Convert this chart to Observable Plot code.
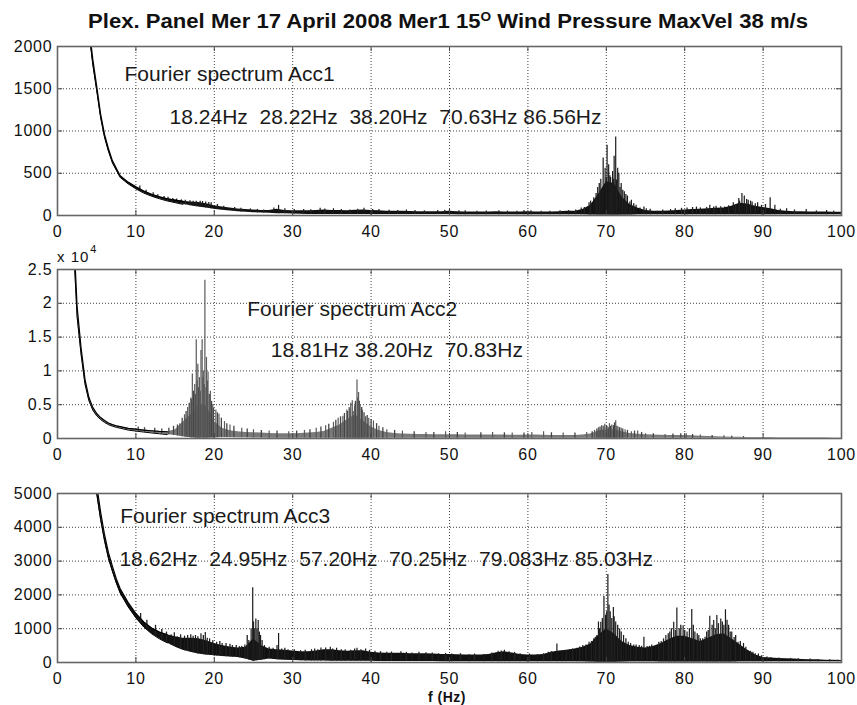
<!DOCTYPE html>
<html><head><meta charset="utf-8">
<script src="https://cdn.jsdelivr.net/npm/d3@7"></script>
<script src="https://cdn.jsdelivr.net/npm/@observablehq/plot@0.6"></script>
<style>
body{margin:0;background:#fff;}
#wrap{position:relative;width:857px;height:705px;overflow:hidden;background:#fff;font-family:"Liberation Sans",Arial,sans-serif;}
#wrap > svg{position:absolute;left:0;top:0;}
svg text{white-space:pre;}
g[aria-label$="tick label"] text{letter-spacing:0.8px;}
</style></head><body><div id="wrap"></div>
<script>
// ---------- data ----------
const titleText = ["Plex. Panel Mer 17 April 2008 Mer1 15", "O", " Wind Pressure MaxVel 38 m/s"];
const xLabel = "f (Hz)";
const xTicks = [0,10,20,30,40,50,60,70,80,90,100];
const yTicks1 = [0,500,1000,1500,2000];
const yTicks2 = [0,5000,10000,15000,20000,25000];
const yTickLabels2 = ["0","0.5","1","1.5","2","2.5"];
const yTicks3 = [0,1000,2000,3000,4000,5000];

const freq = [1,1.5,2,2.5,3,3.5,4,4.5,5,5.5,6,6.5,7,7.5,8,
  9,10,11,12,13,14,15,16,17,18,
  19,20,21,22,23,24,25,26,27,28,
  29,30,31,32,33,34,35,36,37,38,
  39,40,41,42,43,44,45,46,47,48,
  49,50,51,52,53,54,55,56,57,58,
  59,60,61,62,63,64,65,66,67,68,
  69,70,71,72,73,74,75,76,77,78,
  79,80,81,82,83,84,85,86,87,88,
  89,90,91,92,93,94,95,96,97,98,
  99,100];

// Acc1: upper / lower edge of the dense spectrum band
const acc1Hi = [9000,7000,5500,4200,3300,2700,2250,1850,1530,1200,960,790,650,560,470,
  395,340,290,252,222,198,182,168,160,155,
  140,115,100,88,78,70,65,60,60,75,
  60,55,55,55,60,65,60,60,55,62,
  65,58,55,50,50,50,48,45,45,45,
  45,50,45,40,40,40,40,45,42,40,
  42,45,40,40,42,45,50,50,70,120,
  250,400,380,220,130,90,60,50,50,52,
  60,65,70,75,80,85,90,110,145,135,
  110,95,80,60,50,45,45,42,40,40,
  38,38];
const acc1Lo = [8700,6800,5300,4050,3200,2620,2180,1790,1480,1160,925,760,625,535,450,
  375,315,265,228,198,172,152,132,115,100,
  88,75,62,52,45,38,34,30,26,22,
  20,18,15,12,12,12,12,12,12,12,
  12,12,12,12,12,12,12,12,12,12,
  12,12,10,10,10,10,10,10,10,10,
  10,10,10,10,10,10,10,10,8,5,
  5,5,5,5,5,8,10,10,10,10,
  10,10,10,10,10,10,10,10,8,8,
  8,8,10,10,10,10,10,10,10,10,
  10,10];
const acc1PeakF = [15.2,17.3,18.5,19.6,27.6,28.2,33.5,35.2,39.1,41,44.5,48.5,50,52,56.3,59.5,62.8,65.2,66.8,67.8,68.4,68.9,69.3,69.6,69.85,70.1,70.3,70.55,70.8,71.0,71.2,71.45,71.6,71.9,72.3,72.7,73.2,73.8,74.3,75.1,76.5,78.2,80.3,81.5,82.4,83.2,84.0,85.1,86.2,86.9,87.3,87.6,88.1,88.6,89.3,90.9,91.5,93.0,95.5,98.1];
const acc1PeakA = [195,170,165,150,90,120,85,80,85,70,65,60,70,55,55,60,50,60,90,150,210,330,430,680,560,832,600,450,520,700,928,560,500,380,280,230,180,120,90,80,50,70,90,100,70,120,110,100,150,200,260,230,180,160,150,210,120,80,70,60];
const acc1NoiseF = [10.5,11.3,12.2,12.8,13.6,14.1,14.7,15.8,16.3,16.9,17.7,18.2,18.9,19.3,20.4,21.2,22.6,23.4,24.6,25.5,26.3,29.0,30.2,31.4,32.3,34.1,36.2,37.3,38.3,40.2,42.3,43.4,45.6,46.8,49.4,51.2,53.5,54.7,57.4,58.6,60.4,61.7,64.1,66.1,67.2,68.0,68.7,69.1,69.45,70.0,70.45,70.65,70.95,71.3,71.75,72.1,72.5,73.0,73.5,74.8,75.6,77.2,78.8,79.6,81.0,82.0,82.8,83.7,84.6,85.6,86.5,87.0,87.9,88.4,89.0,89.8,90.3,92.2,94.0,96.8,99.0];
const acc1NoiseA = [350,300,270,245,225,215,200,185,180,175,170,168,160,155,130,110,95,85,78,72,66,80,70,72,68,78,72,66,75,70,62,60,58,55,62,55,50,52,52,50,55,50,55,65,95,170,260,380,300,450,470,380,430,420,330,300,250,160,140,100,75,65,80,85,95,90,95,100,105,115,130,170,190,170,140,120,130,75,65,55,50];

// Acc2
const acc2Hi = [100000,60000,32000,19500,13500,8800,6100,4600,3700,3100,2650,2300,2050,1880,1750,
  1500,1380,1250,1150,1050,1000,1250,2400,3500,5000,
  4800,2500,1500,1150,1000,900,850,800,750,700,
  700,700,750,800,900,1050,1500,2000,2800,3500,
  2600,1700,1200,900,750,650,620,600,580,560,
  560,560,540,520,500,500,500,520,500,480,
  480,500,500,480,460,460,450,450,500,650,
  1100,1300,1300,1000,750,620,550,500,480,450,
  450,430,400,350,300,250,220,200,180,160,
  150,140,130,120,120,110,110,100,100,100,
  90,90];
const acc2Lo = [92000,55000,29500,18000,12500,8100,5600,4200,3350,2800,2380,2050,1820,1650,1520,
  1250,1100,950,820,700,580,450,250,120,60,
  60,100,150,150,120,100,80,60,50,50,
  50,50,50,50,50,50,50,50,50,50,
  50,50,50,50,50,50,50,50,50,50,
  40,40,40,40,40,40,40,40,40,40,
  40,40,40,40,40,40,40,40,40,40,
  30,30,30,30,40,40,40,40,40,40,
  40,40,30,30,30,30,30,30,30,30,
  30,30,30,30,30,30,30,30,30,30,
  30,30];
const acc2PeakF = [15.6,16.2,16.6,17.0,17.2,17.5,17.7,17.9,18.1,18.3,18.45,18.6,18.8,19.0,19.2,19.5,19.8,20.2,20.6,21.3,22.0,23.5,25.0,27.0,29.5,31.5,33.0,34.2,35.2,35.8,36.4,36.9,37.2,37.4,37.6,37.9,38.2,38.4,38.6,38.9,39.3,39.7,40.3,41.0,42.0,44.0,47.0,49.5,52.0,55.5,58.0,60.5,62.0,64.5,67.5,68.5,69.0,69.4,69.8,70.1,70.4,70.7,71.2,71.5,71.9,72.4,73.2,74.0,75.0,77.5,80.2,82.0,85.0,87.5];
const acc2PeakA = [2200,3500,4600,6000,9550,8000,14600,11000,9000,13000,14600,10000,23400,12000,9800,7000,5000,4200,3600,2500,2000,1500,1300,1100,1000,1200,1500,1900,2400,3000,3300,4200,4600,5200,5600,4800,8660,6800,5000,4200,3200,3000,2600,1800,1300,1100,900,1000,800,900,800,900,1000,800,900,1200,1600,1900,2100,1800,2200,2000,2620,1700,1500,1300,1000,1100,700,600,700,500,400,300];
const acc2NoiseF = [10.3,11.1,12.4,13.3,14.2,14.8,15.3,15.9,16.4,16.8,17.1,17.35,17.6,17.8,18.0,18.2,18.55,18.7,18.95,19.1,19.35,19.65,19.9,20.4,20.9,21.6,22.5,24.2,26.0,28.0,30.5,32.2,33.6,34.6,35.5,36.1,36.6,37.0,37.3,37.7,38.0,38.3,38.5,38.8,39.1,39.5,40.0,40.7,41.5,43.0,45.5,48.0,51.0,54.0,57.0,59.5,63.0,66.0,68.2,68.8,69.2,69.6,70.0,70.25,70.55,70.9,71.05,71.35,71.7,72.1,72.7,73.6,74.5,76.0,78.5,79.5,81.0,83.5,86.0];
const acc2NoiseA = [1700,1600,1500,1400,1500,1800,2000,3000,4000,5200,5800,7000,6500,8500,7500,7000,9000,8000,7500,8500,6500,5500,4500,3800,3000,2200,1800,1400,1200,1100,1100,1300,1700,2100,2700,3200,3700,4000,4400,4000,5500,6000,5500,4600,3800,3400,2800,2200,1600,1200,1000,900,900,850,850,800,850,800,1000,1400,1700,1800,1900,1600,1800,1900,2300,1800,1600,1400,1200,1100,900,700,650,700,600,450,350];

// Acc3
const acc3Hi = [40000,30000,22000,16000,12000,9500,7500,6200,5250,4450,3780,3250,2850,2480,2180,
  1780,1450,1200,1020,900,820,760,720,720,700,
  640,560,500,460,430,450,700,500,400,380,
  360,340,320,320,340,380,380,350,330,350,
  350,300,280,270,270,270,260,260,260,250,
  240,240,230,220,220,220,240,290,320,280,
  240,220,220,240,300,340,360,400,450,550,
  800,1000,850,620,500,450,430,470,560,680,
  780,780,700,620,720,820,850,700,530,370,
  230,150,130,120,110,100,90,80,80,70,
  70,60];
const acc3Lo = [38000,28500,21000,15200,11400,9000,7100,5900,5000,4230,3600,3080,2700,2350,2050,
  1650,1320,1050,850,700,580,460,360,300,250,
  220,200,180,160,150,100,40,70,100,80,
  70,60,50,45,45,45,40,40,40,40,
  40,35,30,30,30,30,30,30,30,30,
  25,25,25,25,25,25,25,25,25,25,
  25,25,25,25,25,25,25,20,20,15,
  10,10,10,15,20,20,20,20,15,15,
  15,15,15,15,15,15,15,15,20,25,
  25,25,25,25,25,25,25,25,25,25,
  25,25];
const acc3PeakF = [14.5,15.3,16.2,17.0,17.6,18.3,18.85,19.4,20.3,21.0,22.3,23.5,24.4,24.7,24.9,25.1,25.3,25.6,25.9,26.4,27.5,28.2,28.6,29.4,31.0,32.4,33.6,34.8,35.6,36.7,38.2,39.3,40.5,42.0,43.8,45.2,47.0,48.6,50.3,52.5,54.4,56.2,57.0,57.6,59.0,61.2,62.6,63.7,64.4,65.3,66.2,67.0,67.8,68.4,68.8,69.0,69.3,69.7,69.9,70.2,70.5,70.9,71.2,71.7,72.2,72.8,73.5,74.2,74.8,75.5,76.3,77.0,77.6,78.1,78.6,79.0,79.3,79.8,80.3,80.9,81.3,81.8,82.3,82.8,83.2,83.7,84.1,84.6,85.2,85.6,86.0,86.3,86.8,87.5,88.1,88.7,89.4,91.0,93.5,96.0,98.5];
const acc3PeakA = [820,760,780,820,800,850,890,700,600,560,500,480,650,1000,2210,1000,1290,1240,800,500,420,860,400,380,350,380,430,450,420,380,420,400,330,300,320,280,290,260,250,230,240,330,365,320,260,230,300,545,330,380,420,500,600,700,800,1200,1190,1950,1400,2600,1500,1630,1200,990,800,600,520,500,750,480,500,620,800,900,1190,1610,1000,1090,900,1570,900,800,700,900,1370,1240,1390,1290,1560,1100,900,740,600,565,350,300,250,150,120,100,80];
const acc3NoiseF = [10.6,11.4,12.5,13.3,13.9,14.9,15.7,16.6,17.3,17.9,18.6,19.1,19.8,20.7,21.5,22.0,22.8,23.2,23.9,24.2,25.0,25.45,25.75,26.1,27.0,28.0,29.0,30.2,31.6,32.8,33.2,34.2,35.1,36.2,37.4,37.9,38.7,39.8,41.2,42.6,44.5,46.1,47.8,49.5,51.4,53.2,55.4,56.6,58.3,60.2,62.0,63.0,64.9,65.7,66.6,67.4,68.1,68.6,69.15,69.5,70.05,70.35,70.7,71.0,71.45,71.9,72.5,73.1,73.8,74.5,75.2,75.8,76.7,77.3,77.9,78.3,78.8,79.5,80.0,80.6,81.1,81.6,82.0,82.6,83.0,83.5,83.9,84.3,84.8,85.0,85.4,85.8,86.5,87.1,87.8,88.4,89.0,89.8,90.5,92.0,94.5,97.0,99.5];
const acc3NoiseA = [1450,1250,1100,980,900,880,820,800,780,760,800,720,640,620,560,540,500,470,520,800,1200,1000,900,650,450,500,420,380,360,400,380,430,400,380,360,400,380,360,320,310,300,300,280,270,260,250,280,340,300,250,260,320,360,400,460,520,620,750,1000,1300,1500,1700,1300,1350,1100,900,700,560,520,480,470,520,600,700,850,1000,950,1100,950,1000,1100,850,700,750,950,1100,1000,1150,1200,1100,1250,900,800,620,450,330,260,200,160,130,110,90,70];

const annot1 = ["Fourier spectrum Acc1", "18.24Hz  28.22Hz  38.20Hz  70.63Hz 86.56Hz"];
const annot2 = ["Fourier spectrum Acc2", "18.81Hz 38.20Hz  70.83Hz"];
const annot3 = ["Fourier spectrum Acc3", "18.62Hz  24.95Hz  57.20Hz  70.25Hz  79.083Hz 85.03Hz"];
const yMult = ["x 10", "4"];

// ---------- drawing ----------
const wrap = document.getElementById("wrap");
const FONT = '"Liberation Sans", Arial, Helvetica, sans-serif';

function loAt(lo, f) {
  const i = d3.bisectLeft(freq, f);
  if (i <= 0) return lo[0];
  if (i >= freq.length) return lo[lo.length - 1];
  const t = (f - freq[i-1]) / (freq[i] - freq[i-1]);
  return lo[i-1] + t * (lo[i] - lo[i-1]);
}

function panel(o) {
  const band = freq.map((f, i) => ({f, hi: o.hi[i], lo: o.lo[i]}));
  const curve = band.filter(d => d.f <= o.lineTo);
  const mk = (F, A) => F.map((f, i) => ({f, a: A[i], b: Math.min(loAt(o.lo, f), A[i])}));
  const noise = mk(o.nf, o.na);
  const spikes = mk(o.pf, o.pa);
  const yMax = o.yTicks[o.yTicks.length - 1];
  const inner = o.yTicks.slice(1, -1);
  const chart = Plot.plot({
    width: 857, height: 209,
    marginTop: 10, marginBottom: 30, marginLeft: 57, marginRight: 16,
    x: {domain: [0, 100], label: null},
    y: {domain: [0, yMax], label: null},
    style: {fontFamily: FONT, fontSize: "16px", color: "#111", background: "transparent", overflow: "visible"},
    marks: [
      Plot.gridX(xTicks.slice(1, -1), {stroke: "#222", strokeOpacity: 0.85, strokeDasharray: "1,2"}),
      Plot.gridY(inner, {stroke: "#222", strokeOpacity: 0.85, strokeDasharray: "1,2"}),
      Plot.areaY(band, {x: "f", y1: "lo", y2: "hi", fill: o.fill, clip: true}),
      Plot.ruleX(noise, {x: "f", y1: "b", y2: "a", stroke: o.noise, strokeWidth: 1.3, clip: true}),
      Plot.ruleX(spikes, {x: "f", y1: "b", y2: "a", stroke: o.spike, strokeWidth: 1.2, clip: true}),
      Plot.line(curve, {x: "f", y: "hi", stroke: "#000", strokeWidth: 1.2, clip: true}),
      Plot.line(curve, {x: "f", y: "lo", stroke: "#000", strokeWidth: 1, clip: true}),
      Plot.ruleX(xTicks, {x: d => d, y1: 0, y2: yMax * 0.03, stroke: "#444"}),
      Plot.ruleX(xTicks, {x: d => d, y1: yMax, y2: yMax * 0.97, stroke: "#444"}),
      Plot.ruleY(o.yTicks, {y: d => d, x1: 0, x2: 0.65, stroke: "#444"}),
      Plot.ruleY(o.yTicks, {y: d => d, x1: 100, x2: 99.35, stroke: "#444"}),
      Plot.frame({stroke: "#666", strokeWidth: 1.6}),
      Plot.axisX({ticks: xTicks, tickSize: 0, tickPadding: 10, tickFormat: d => String(d), label: null}),
      Plot.axisY({ticks: o.yTicks, tickSize: 0, tickPadding: 5, tickFormat: o.fmt, label: null}),
      Plot.text([o.ann[0]], {x: o.ax[0], y: o.ay[0], text: d => d, textAnchor: "start", fontSize: 21, fill: "#1a1a1a"}),
      Plot.text([o.ann[1]], {x: o.ax[1], y: o.ay[1], text: d => d, textAnchor: "start", fontSize: 21, fill: "#1a1a1a"})
    ]
  });
  chart.style.top = o.top + "px";
  wrap.append(chart);
}

panel({top: 36, yTicks: yTicks1, fmt: d => String(d), hi: acc1Hi, lo: acc1Lo, pf: acc1PeakF, pa: acc1PeakA, nf: acc1NoiseF, na: acc1NoiseA,
  fill: "#111", spike: "#1a1a1a", noise: "#222", lineTo: 16, ann: annot1, ax: [8.55, 14.3], ay: [1677, 1168]});
panel({top: 259, yTicks: yTicks2, fmt: d => yTickLabels2[yTicks2.indexOf(d)], hi: acc2Hi, lo: acc2Lo, pf: acc2PeakF, pa: acc2PeakA, nf: acc2NoiseF, na: acc2NoiseA,
  fill: "#7a7a7a", spike: "#5a5a5a", noise: "#444", lineTo: 14, ann: annot2, ax: [24.2, 27.2], ay: [19080, 13020]});
panel({top: 483, yTicks: yTicks3, fmt: d => String(d), hi: acc3Hi, lo: acc3Lo, pf: acc3PeakF, pa: acc3PeakA, nf: acc3NoiseF, na: acc3NoiseA,
  fill: "#111", spike: "#1a1a1a", noise: "#222", lineTo: 14, ann: annot3, ax: [8.0, 7.9], ay: [4334, 3062]});

// overlay: title, axis multiplier, x label
const ov = d3.select(wrap).append("svg")
  .attr("width", 857).attr("height", 705)
  .style("pointer-events", "none")
  .style("font-family", FONT);
const t = ov.append("text")
  .attr("x", 448).attr("y", 28)
  .attr("text-anchor", "middle")
  .attr("font-weight", "bold").attr("font-size", 19.5).attr("fill", "#111")
  .attr("textLength", 720).attr("lengthAdjust", "spacingAndGlyphs");
t.append("tspan").text(titleText[0]);
t.append("tspan").attr("font-size", 12).attr("dy", -7).text(titleText[1]);
t.append("tspan").attr("dy", 7).text(titleText[2]);

const m = ov.append("text").attr("x", 57).attr("y", 262).attr("font-size", 15).attr("fill", "#111")
  .style("letter-spacing", "1px");
m.append("tspan").text(yMult[0]);
m.append("tspan").attr("font-size", 11).attr("dy", -9).attr("dx", 1).text(yMult[1]);

ov.append("text").attr("x", 447).attr("y", 702).attr("text-anchor", "middle")
  .attr("font-weight", "bold").attr("font-size", 14).attr("fill", "#111")
  .style("letter-spacing", "0.5px").text(xLabel);
</script>
</body></html>
